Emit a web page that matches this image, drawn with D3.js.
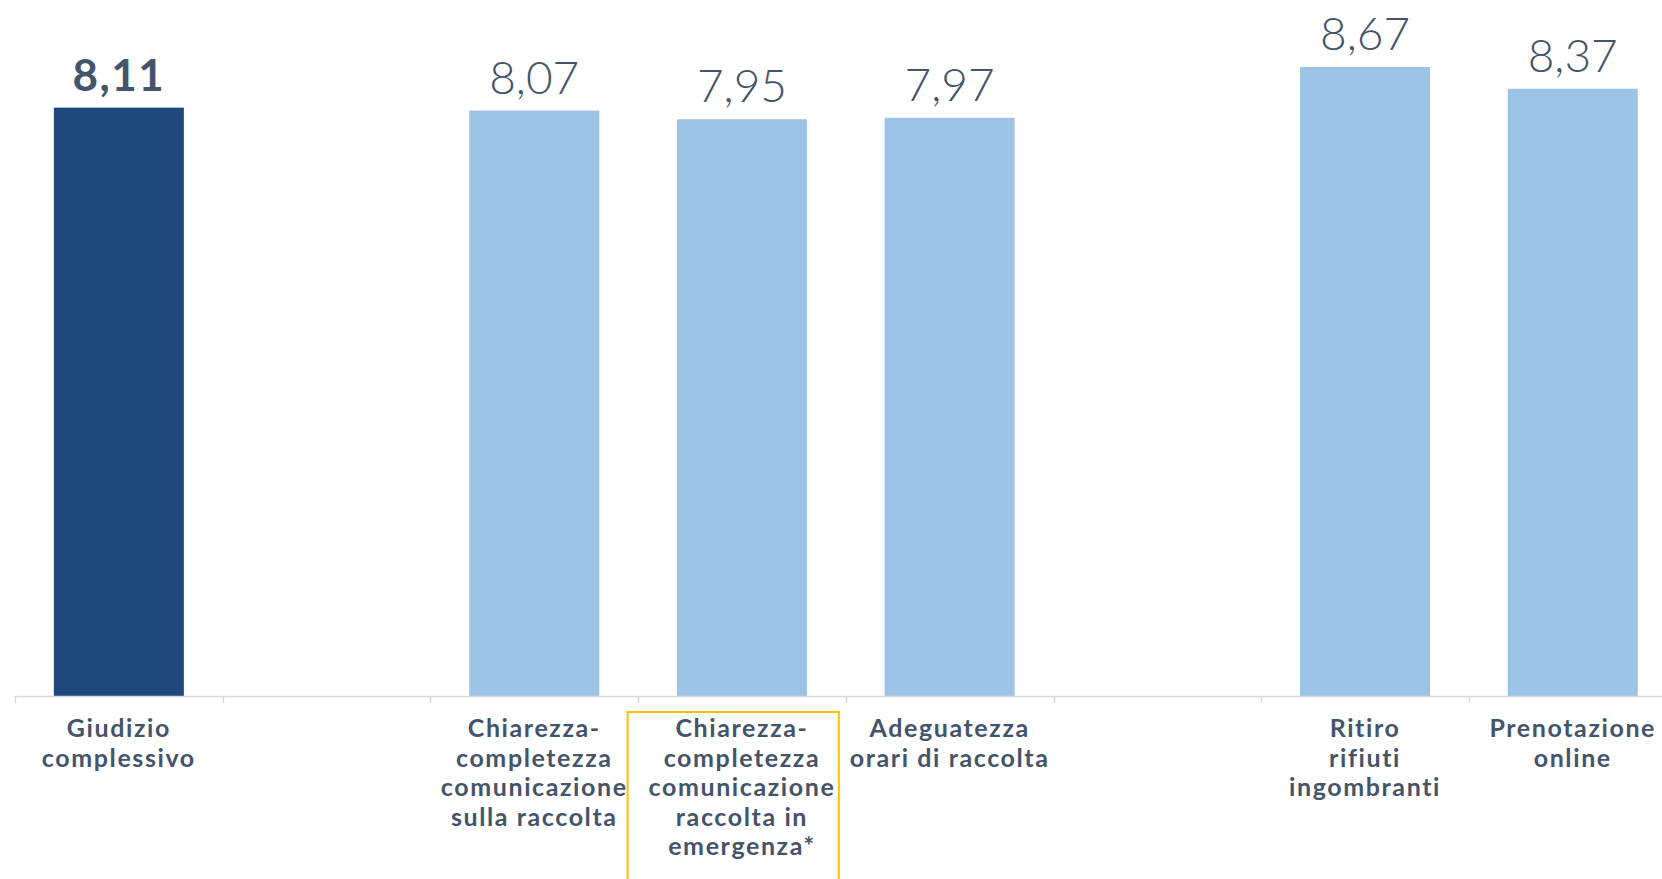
<!DOCTYPE html>
<html>
<head>
<meta charset="utf-8">
<script src="https://cdn.jsdelivr.net/npm/d3@7"></script>
<style>
  html, body { margin: 0; padding: 0; background: #ffffff; }
  svg { display: block; }
</style>
</head>
<body>
<svg id="chart" width="1662" height="879"></svg>
<script>
// Slots along the axis; empty slots leave a gap between groups
const categories = [
  ["Giudizio", "complessivo"],
  [],
  ["Chiarezza-", "completezza", "comunicazione", "sulla raccolta"],
  ["Chiarezza-", "completezza", "comunicazione", "raccolta in", "emergenza*"],
  ["Adeguatezza", "orari di raccolta"],
  [],
  ["Ritiro", "rifiuti", "ingombranti"],
  ["Prenotazione", "online"]
];
const values = [8.11, null, 8.07, 7.95, 7.97, null, 8.67, 8.37];
const valueLabels = ["8,11", "", "8,07", "7,95", "7,97", "", "8,67", "8,37"];
const highlightIndex = 0;   // overall score, drawn dark and bold
const boxedIndex = 3;       // label framed in yellow

const DARK = "#1f497d";
const LIGHT = "#9dc3e6";
const TEXT = "#44546a";
const AXIS = "#d9d9d9";

const svg = d3.select("#chart");
const idx = d3.range(categories.length);

const baseY = 696;
const x = d3.scaleBand()
  .domain(idx)
  .range([15, 1676.6])
  .paddingInner(0.374)
  .paddingOuter(0.187);
const y = d3.scaleLinear().domain([0, 10]).range([baseY, baseY - 725.5]);

const step = x.step();
const gap = step - x.bandwidth();
const slotStart = i => x(i) - gap / 2;

// Bars
svg.append("g").selectAll("rect")
  .data(idx.filter(i => values[i] != null))
  .join("rect")
  .attr("x", i => x(i))
  .attr("y", i => y(values[i]))
  .attr("width", x.bandwidth())
  .attr("height", i => y(0) - y(values[i]))
  .attr("fill", i => i === highlightIndex ? DARK : LIGHT);

// Axis line with ticks at slot boundaries
const axis = svg.append("g");
axis.append("line")
  .attr("x1", slotStart(0)).attr("x2", slotStart(categories.length - 1) + step)
  .attr("y1", baseY + 0.5).attr("y2", baseY + 0.5)
  .attr("stroke", AXIS).attr("stroke-width", 1.5);
axis.selectAll("line.tick")
  .data(d3.range(categories.length + 1))
  .join("line")
  .attr("class", "tick")
  .attr("x1", i => Math.round(slotStart(0) + i * step) + 0.5)
  .attr("x2", i => Math.round(slotStart(0) + i * step) + 0.5)
  .attr("y1", baseY).attr("y2", baseY + 7)
  .attr("stroke", AXIS).attr("stroke-width", 1.5);

// Value labels
svg.append("g").selectAll("text")
  .data(idx.filter(i => values[i] != null))
  .join("text")
  .attr("x", i => x(i) + x.bandwidth() / 2)
  .attr("y", i => y(values[i]) - 17)
  .attr("text-anchor", "middle")
  .attr("font-family", "Lato, 'Open Sans', sans-serif")
  .attr("font-size", i => i === highlightIndex ? 44 : 46)
  .attr("font-weight", i => i === highlightIndex ? 700 : 300)
  .attr("letter-spacing", i => i === highlightIndex ? 1.5 : 0)
  .attr("fill", TEXT)
  .text(i => valueLabels[i]);

// Category labels
const firstBaseline = 737;
const lineH = 29.5;
const labels = svg.append("g")
  .attr("font-family", "Lato, 'Open Sans', sans-serif")
  .attr("font-size", 25)
  .attr("font-weight", 700)
  .attr("letter-spacing", 1.6)
  .attr("fill", TEXT)
  .attr("text-anchor", "middle");
idx.forEach(i => {
  const t = labels.append("text")
    .attr("x", x(i) + x.bandwidth() / 2)
    .attr("y", firstBaseline);
  categories[i].forEach((line, k) => {
    t.append("tspan")
      .attr("x", x(i) + x.bandwidth() / 2)
      .attr("y", firstBaseline + k * lineH)
      .text(line);
  });
});

// Yellow frame around one label
svg.append("rect")
  .attr("x", slotStart(boxedIndex) - 10.5)
  .attr("y", 712)
  .attr("width", step + 3.5)
  .attr("height", 200)
  .attr("fill", "none")
  .attr("stroke", "#ffc000")
  .attr("stroke-width", 2);
</script>
</body>
</html>
